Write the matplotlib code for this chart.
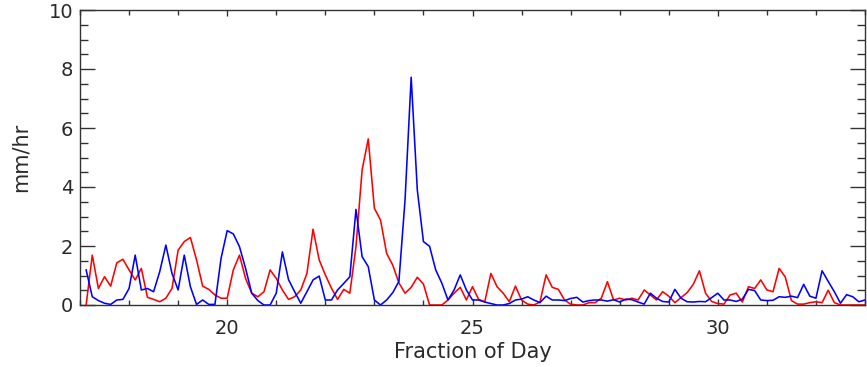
import numpy as np
import matplotlib
matplotlib.use("Agg")
import matplotlib.pyplot as plt
from matplotlib.ticker import MultipleLocator

# 3-hourly samples, fraction of day
t0 = 17.125
dt = 0.125

red = [0, 1.69, 0.56, 0.96, 0.64, 1.43, 1.55, 1.19, 0.85, 1.24,
       0.26, 0.19, 0.11, 0.23, 0.56, 1.86, 2.15, 2.29, 1.53, 0.64,
       0.53, 0.34, 0.23, 0.23, 1.19, 1.69, 0.90, 0.40, 0.28, 0.45,
       1.19, 0.90, 0.51, 0.19, 0.28, 0.51, 1.07, 2.57, 1.53, 1.02,
       0.57, 0.19, 0.53, 0.40, 1.98, 4.58, 5.63, 3.28, 2.88, 1.75,
       1.35, 0.75, 0.40, 0.60, 0.94, 0.71, 0, 0, 0, 0.17,
       0.40, 0.60, 0.17, 0.62, 0.19, 0.11, 1.07, 0.62, 0.40, 0.11,
       0.64, 0.17, 0.03, 0, 0.10, 1.02, 0.60, 0.53, 0.17, 0.03,
       0, 0, 0.08, 0.08, 0.23, 0.79, 0.17, 0.23, 0.17, 0.23,
       0.17, 0.51, 0.34, 0.17, 0.45, 0.30, 0.08, 0.25, 0.42, 0.70,
       1.16, 0.40, 0.12, 0.05, 0.03, 0.34, 0.40, 0.10, 0.62, 0.56,
       0.85, 0.51, 0.45, 1.24, 0.95, 0.15, 0.03, 0.03, 0.08, 0.11,
       0.08, 0.50, 0.08, 0, 0, 0, 0, 0]

blue = [1.19, 0.28, 0.15, 0.06, 0.02, 0.17, 0.19, 0.56, 1.69, 0.51,
        0.56, 0.45, 1.13, 2.03, 1.07, 0.51, 1.69, 0.62, 0.02, 0.17,
        0.02, 0.02, 1.58, 2.52, 2.41, 1.98, 1.24, 0.40, 0.15, 0,
        0, 0.40, 1.80, 0.86, 0.45, 0.06, 0.45, 0.85, 0.98, 0.17,
        0.17, 0.51, 0.73, 0.96, 3.24, 1.64, 1.30, 0.17, 0, 0.17,
        0.42, 0.80, 3.56, 7.72, 3.90, 2.15, 1.99, 1.19, 0.74, 0.17,
        0.51, 1.02, 0.51, 0.17, 0.17, 0.10, 0.05, 0, 0, 0.05,
        0.17, 0.20, 0.28, 0.17, 0.08, 0.30, 0.17, 0.17, 0.15, 0.22,
        0.26, 0.10, 0.15, 0.17, 0.17, 0.13, 0.18, 0.10, 0.20, 0.18,
        0.10, 0.03, 0.40, 0.23, 0.12, 0.10, 0.53, 0.23, 0.11, 0.10,
        0.12, 0.11, 0.25, 0.40, 0.17, 0.17, 0.12, 0.20, 0.53, 0.49,
        0.17, 0.15, 0.16, 0.28, 0.26, 0.30, 0.25, 0.70, 0.30, 0.23,
        1.16, 0.80, 0.45, 0.06, 0.35, 0.28, 0.11, 0.17]

t = t0 + dt * np.arange(len(blue))

fig = plt.figure(figsize=(8.67, 3.67), dpi=100)
ax = fig.add_axes([80 / 867, 62 / 367, 785 / 867, 295 / 367])

ax.plot(t, red, color="#ff0000", lw=1.15)
ax.plot(t, blue, color="#0000ff", lw=1.15)

ax.set_xlim(17, 33)
ax.set_ylim(0, 10)
ax.xaxis.set_major_locator(MultipleLocator(5))
ax.xaxis.set_minor_locator(MultipleLocator(1))
ax.yaxis.set_major_locator(MultipleLocator(2))
ax.yaxis.set_minor_locator(MultipleLocator(0.5))

for s in ax.spines.values():
    s.set_color("#333333")
    s.set_linewidth(1.0)

txt = "#2a2a2a"
ax.tick_params(which="both", direction="in", top=True, right=True,
               color="#333333", width=1.0, labelcolor=txt, labelsize=14)
ax.tick_params(axis="x", which="major", length=4.5, pad=10)
ax.tick_params(axis="x", which="minor", length=3.5)
ax.tick_params(axis="y", which="major", length=11, pad=5)
ax.tick_params(axis="y", which="minor", length=6)

ax.set_xlabel("Fraction of Day", fontsize=15, color=txt, labelpad=3)
ax.set_ylabel("mm/hr", fontsize=15, color=txt, labelpad=13)

fig.savefig("out.png", dpi=100, facecolor="white")
